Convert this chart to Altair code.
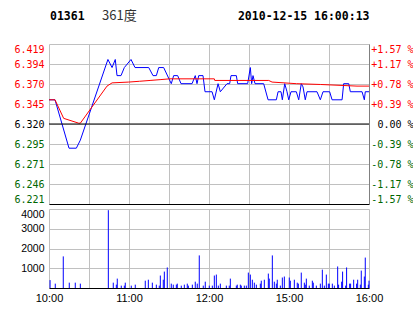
import altair as alt
import pandas as pd

# ---- header texts ----
title_code = "01361"
title_name = "361度"
title_time = "2010-12-15 16:00:13"

# ---- price axis ----
prev_close = 6.32
price_ticks = [6.2208, 6.2456, 6.2704, 6.2952, 6.32, 6.3448, 6.3696, 6.3944, 6.4192]
price_labels = ["6.221", "6.246", "6.271", "6.295", "6.320", "6.345", "6.370", "6.394", "6.419"]
pct_labels = ["-1.57 %", "-1.17 %", "-0.78 %", "-0.39 %", "0.00 %", "+0.39 %", "+0.78 %", "+1.17 %", "+1.57 %"]

# ---- time axis (minutes since 10:00, lunch break collapsed) ----
time_ticks = [0, 30, 60, 90, 120, 150, 180, 210, 240]
time_labels = ["10:00", "", "11:00", "", "12:00", "", "15:00", "", "16:00"]

# ---- volume axis ----
vol_ticks = [1000, 2000, 3000, 4000]

# ---- price line (blue) ----
price_min = [0, 4.5, 15, 20.5, 23.5, 44.2, 47.3, 49.7, 51, 54,
             56.5, 61.5, 64.5, 74.8, 78, 80.5, 82.3, 86, 91.7, 93.5,
             96.5, 99, 107.3, 109.7, 111, 112.3, 115.5, 117, 120, 122.3,
             124, 126.8, 128.5, 133.5, 135.5, 136.5, 140.5, 141.5, 149, 151,
             152, 153, 154.5, 161, 164.3, 170.5, 171.8, 174, 175, 176.8,
             178.5, 179.8, 181.5, 185.5, 187.3, 189.2, 190.5, 192.2, 193.5, 201,
             203.5, 205.5, 210.5, 212.3, 219.8, 221, 224.8, 226, 234.8, 236.5,
             237.2, 240]
price_val = [6.35, 6.35, 6.29, 6.29, 6.30, 6.40, 6.39, 6.40, 6.38, 6.38,
             6.39, 6.40, 6.39, 6.39, 6.38, 6.38, 6.39, 6.39, 6.37, 6.38,
             6.38, 6.37, 6.37, 6.38, 6.37, 6.38, 6.38, 6.36, 6.36, 6.36,
             6.35, 6.37, 6.36, 6.37, 6.37, 6.38, 6.38, 6.37, 6.37, 6.39,
             6.37, 6.38, 6.37, 6.37, 6.35, 6.35, 6.36, 6.36, 6.35, 6.37,
             6.36, 6.35, 6.36, 6.36, 6.35, 6.37, 6.366, 6.35, 6.36, 6.36,
             6.35, 6.36, 6.36, 6.35, 6.35, 6.37, 6.37, 6.36, 6.36, 6.35,
             6.36, 6.36]

# ---- average line (red) ----
avg_min = [0, 4.5, 11, 22.3, 23.5, 43.5, 47.3, 59.8, 68, 75.8,
           83.3, 90.5, 124, 124.3, 164.8, 167.3, 185.5, 203.5, 231, 240]
avg_val = [6.35, 6.35, 6.327, 6.321, 6.321, 6.367, 6.371, 6.372, 6.373, 6.374,
           6.375, 6.376, 6.376, 6.374, 6.374, 6.372, 6.370, 6.369, 6.367, 6.367]

# ---- volume bars ----
vol_min = [0.8, 4.7, 10.7, 15.2, 19.7, 23.5, 44.5, 48.2, 50.5, 51.2,
           54.2, 56.5, 57.2, 61.7, 64.7, 72.2, 74.5, 77.5, 80.5, 82.7,
           83.5, 85.7, 86.5, 88.7, 91.7, 93.2, 95.5, 96.2, 99.2, 101.5,
           103.7, 104.5, 107.5, 109.7, 111.2, 112.7, 115.7, 117.2, 120.2, 122.5,
           124, 125.5, 127, 128.5, 133, 135.2, 136, 140.5, 141.2, 143.5,
           144.2, 146.5, 148, 149.5, 151, 152.5, 154, 155.5, 158.5, 159.2,
           161.5, 164.5, 165.2, 167.5, 169, 170.5, 171.2, 173.5, 175, 176.5,
           180.2, 181, 184, 186.2, 187, 189.2, 191.5, 192.2, 193, 195.2,
           197.5, 198.2, 200.5, 203.5, 205, 206.5, 208, 209.5, 210.2, 212.5,
           214, 216.5, 217.2, 219.5, 220.2, 222.5, 223.2, 225.5, 226.2, 228.5,
           230.7, 231.5, 233.5, 234.2, 236.5, 237.2, 239.5, 240]
vol_val = [400, 220, 1600, 270, 270, 220, 3940, 270, 170, 475,
           120, 120, 270, 120, 170, 370, 420, 270, 170, 120,
           630, 420, 830, 1040, 220, 170, 170, 220, 120, 170,
           220, 120, 170, 320, 220, 1650, 120, 320, 120, 120,
           630, 680, 120, 220, 120, 120, 475, 120, 170, 170,
           120, 120, 120, 780, 680, 420, 270, 170, 220, 370,
           420, 730, 475, 1650, 320, 220, 420, 120, 530, 580,
           530, 370, 420, 270, 220, 780, 270, 170, 475, 120,
           370, 270, 120, 220, 930, 120, 680, 220, 220, 220,
           120, 1090, 170, 320, 830, 120, 1040, 220, 220, 420,
           220, 420, 170, 880, 580, 1540, 170, 370]

price_df = pd.DataFrame({"m": price_min, "p": price_val})
avg_df = pd.DataFrame({"m": avg_min, "p": avg_val})
vol_df = pd.DataFrame({"m": vol_min, "v": vol_val})
base_df = pd.DataFrame({"p": [prev_close]})

GRID = "#c0c0c0"
BLUE = "#0000ff"
RED = "#ff0000"
GREEN = "#006600"
W, H_MAIN, H_VOL = 320, 160, 79

time_label_expr = "[" + ",".join("'%s'" % s for s in time_labels) + "][round(datum.value/30)]"
price_label_expr = "[" + ",".join("'%s'" % s for s in price_labels) + "][round((datum.value-%s)/0.0248)]" % price_ticks[0]
pct_label_expr = "[" + ",".join("'%s'" % s for s in pct_labels) + "][round((datum.value-%s)/0.0248)]" % price_ticks[0]
color_expr = "datum.value > %f ? '%s' : (datum.value < %f ? '%s' : '#000000')" % (prev_close + 0.001, RED, prev_close - 0.001, GREEN)

x_scale = alt.Scale(domain=[0, 240], nice=False, zero=False)
y_scale = alt.Scale(domain=[price_ticks[0], price_ticks[-1]], nice=False, zero=False)

x_main = alt.X("m:Q", scale=x_scale, title=None,
               axis=alt.Axis(values=time_ticks, labels=False, ticks=False, grid=True,
                             gridColor=GRID, domainColor="black", domainWidth=1))

left_axis = alt.Axis(values=price_ticks, labelExpr=price_label_expr, grid=True, gridColor=GRID,
                     domain=False, ticks=False, labelFont="DejaVu Sans Mono", labelFontSize=10,
                     labelPadding=5, labelFlush=True, minExtent=44, maxExtent=44,
                     labelColor={"expr": color_expr})
right_axis = alt.Axis(values=price_ticks, labelExpr=pct_label_expr, grid=False, orient="right",
                      domain=True, domainColor="#808080", ticks=False, labelFont="DejaVu Sans Mono",
                      labelFontSize=10, labelAlign="right", labelPadding=44, labelFlush=True,
                      labelColor={"expr": color_expr})

price_line = alt.Chart(price_df).mark_line(color=BLUE, strokeWidth=1).encode(
    x=x_main, y=alt.Y("p:Q", scale=y_scale, axis=left_axis, title=None))
avg_line = alt.Chart(avg_df).mark_line(color=RED, strokeWidth=1).encode(
    x=x_main, y=alt.Y("p:Q", scale=y_scale, axis=left_axis, title=None))
base_rule = alt.Chart(base_df).mark_rule(color="black", strokeWidth=1).encode(
    y=alt.Y("p:Q", scale=y_scale, axis=right_axis, title=None))

t1 = alt.Chart(pd.DataFrame({"t": [title_code]})).mark_text(
    align="left", baseline="alphabetic", font="DejaVu Sans Mono", fontWeight="bold",
    fontSize=11.5, color="black").encode(x=alt.value(1), y=alt.value(-24.5), text="t:N")
t2 = alt.Chart(pd.DataFrame({"t": [title_name]})).mark_text(
    align="left", baseline="alphabetic", font="Noto Sans CJK SC", fontSize=13,
    color="#333333").encode(x=alt.value(53), y=alt.value(-24), text="t:N")
t3 = alt.Chart(pd.DataFrame({"t": [title_time]})).mark_text(
    align="right", baseline="alphabetic", font="DejaVu Sans Mono", fontWeight="bold",
    fontSize=11.5, color="black").encode(x=alt.value(320.5), y=alt.value(-24.5), text="t:N")

left_layers = alt.layer(price_line, avg_line)
main = alt.layer(left_layers, base_rule, t1, t2, t3).resolve_scale(y="independent").properties(
    width=W, height=H_MAIN)

vol = alt.Chart(vol_df).mark_rule(color=BLUE, strokeWidth=1).encode(
    x=alt.X("m:Q", scale=x_scale, title=None,
            axis=alt.Axis(values=time_ticks, labelExpr=time_label_expr, ticks=False, grid=True,
                          gridColor=GRID, domainColor="black", labelFont="Liberation Sans",
                          labelFontSize=11, labelColor="black", labelPadding=4,
                          labelFlush=False, labelOverlap=False)),
    y=alt.Y("v:Q", scale=alt.Scale(domain=[0, 4000], nice=False), title=None,
            axis=alt.Axis(values=vol_ticks, format="d", grid=True, gridColor=GRID, domain=False,
                          ticks=False, labelFont="Liberation Sans", labelFontSize=10.5,
                          labelColor="black", labelPadding=5, labelFlush=True,
                          minExtent=44, maxExtent=44)),
    y2=alt.datum(0),
).properties(width=W, height=H_VOL)

chart = alt.vconcat(main, vol, spacing=5).properties(
    padding={"top": 10, "left": 5, "right": 0, "bottom": 0}
).configure_view(stroke=None)

chart.save("out.html", embed_options={"renderer": "svg", "actions": False})
